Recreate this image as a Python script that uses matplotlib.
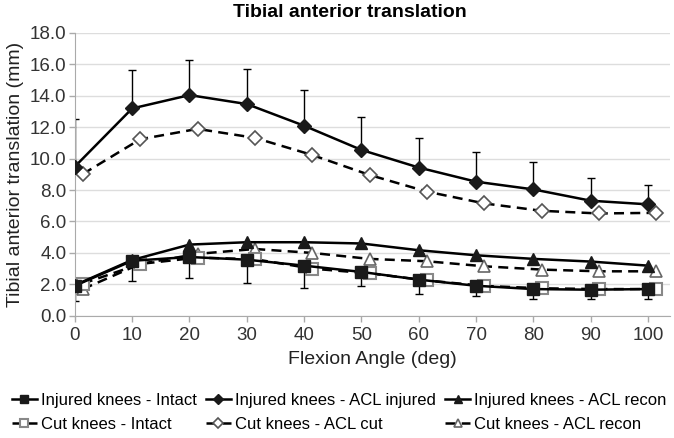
import matplotlib.pyplot as plt

plt.rcParams['font.family'] = ['Liberation Sans', 'DejaVu Sans']

# flexion angles (deg)
angles = [0, 10, 20, 30, 40, 50, 60, 70, 80, 90, 100]

# injured knees
inj_intact = [1.91, 3.50, 3.74, 3.57, 3.19, 2.79, 2.30, 1.91, 1.70, 1.66, 1.70]
inj_intact_err = [1.00, 1.27, 1.36, 1.48, 1.42, 0.92, 0.90, 0.68, 0.61, 0.57, 0.60]
inj_acl = [9.49, 13.19, 14.04, 13.47, 12.09, 10.55, 9.43, 8.53, 8.04, 7.32, 7.09]
inj_acl_err = [3.02, 2.43, 2.22, 2.23, 2.25, 2.09, 1.91, 1.87, 1.73, 1.45, 1.25]
inj_recon = [1.95, 3.55, 4.53, 4.68, 4.68, 4.60, 4.17, 3.85, 3.62, 3.45, 3.19]

# cut knees
cut_intact = [2.05, 3.30, 3.70, 3.60, 3.00, 2.70, 2.25, 1.90, 1.75, 1.70, 1.70]
cut_acl = [9.02, 11.23, 11.89, 11.32, 10.23, 8.96, 7.90, 7.15, 6.68, 6.51, 6.55]
cut_recon = [1.70, 3.30, 3.94, 4.25, 4.00, 3.62, 3.47, 3.15, 2.94, 2.83, 2.83]

OFFSET = 1.4  # cut knees drawn slightly to the right
cut_x = [a + OFFSET for a in angles]

fig = plt.figure(figsize=(6.74, 4.38), dpi=100)
ax = fig.add_axes([0.111, 0.279, 0.883, 0.646])

# error bars (one-sided)
ax.errorbar(angles, inj_acl, yerr=[[0] * len(angles), inj_acl_err], fmt='none',
            ecolor='black', elinewidth=1, capsize=3, capthick=1, zorder=2)
ax.errorbar(angles, inj_intact, yerr=[inj_intact_err, [0] * len(angles)], fmt='none',
            ecolor='black', elinewidth=1, capsize=3, capthick=1, zorder=2)

# cut knees (dashed, open markers)
h_cut_recon, = ax.plot(cut_x, cut_recon, '--', color='black', lw=1.8, marker='^', ms=9,
                       mfc='white', mec='#666666', mew=1.2, dashes=(4, 2.5),
                       label='Cut knees - ACL recon', zorder=3)
h_cut_acl, = ax.plot(cut_x, cut_acl, '--', color='black', lw=1.8, marker='D', ms=7,
                     mfc='white', mec='#555555', mew=1.2, dashes=(4, 2.5),
                     label='Cut knees - ACL cut', zorder=3)
h_cut_intact, = ax.plot(cut_x, cut_intact, '--', color='black', lw=1.8, marker='s', ms=9,
                        mfc='white', mec='#888888', mew=1.5, dashes=(4, 2.5),
                        label='Cut knees - Intact', zorder=3)

# injured knees (solid, filled markers)
h_inj_recon, = ax.plot(angles, inj_recon, '-', color='black', lw=1.8, marker='^', ms=9,
                       mfc='#1a1a1a', mec='#1a1a1a', label='Injured knees - ACL recon', zorder=4)
h_inj_acl, = ax.plot(angles, inj_acl, '-', color='black', lw=1.8, marker='D', ms=7,
                     mfc='#1a1a1a', mec='#1a1a1a', label='Injured knees - ACL injured', zorder=4)
h_inj_intact, = ax.plot(angles, inj_intact, '-', color='black', lw=1.8, marker='s', ms=9,
                        mfc='#1a1a1a', mec='#1a1a1a', label='Injured knees - Intact', zorder=4)

ax.set_xlim(0, 103.8)
ax.set_ylim(0, 18)
ax.set_xticks(angles)
ax.set_yticks([0, 2, 4, 6, 8, 10, 12, 14, 16, 18])
ax.set_yticklabels(['%.1f' % v for v in ax.get_yticks()])
ax.tick_params(labelsize=13.5, labelcolor='#333333', length=4, width=1, color='#aaaaaa', pad=2)
ax.tick_params(axis='x', pad=4)
ax.grid(axis='y', color='#dddddd', lw=1)
ax.set_axisbelow(True)
for loc in ['top', 'right']:
    ax.spines[loc].set_visible(False)
for loc in ['left', 'bottom']:
    ax.spines[loc].set_color('#aaaaaa')

ax.set_xlabel('Flexion Angle (deg)', fontsize=14, color='#222222', labelpad=5)
ax.set_ylabel('Tibial anterior translation (mm)', fontsize=14, color='#222222', labelpad=4)
fig.text(0.519, 0.972, 'Tibial anterior translation', fontsize=14, fontweight='bold',
         ha='center', va='center')

handles = [h_inj_intact, h_cut_intact, h_inj_acl, h_cut_acl, h_inj_recon, h_cut_recon]
fig.legend(handles=handles, labels=[h.get_label() for h in handles], ncol=3,
           loc='lower left', bbox_to_anchor=(-0.005, -0.02), frameon=False,
           fontsize=12, handlelength=1.5, handletextpad=0.25, columnspacing=0.55,
           labelspacing=0.55, markerscale=0.7)

plt.savefig('out.png', dpi=100)
